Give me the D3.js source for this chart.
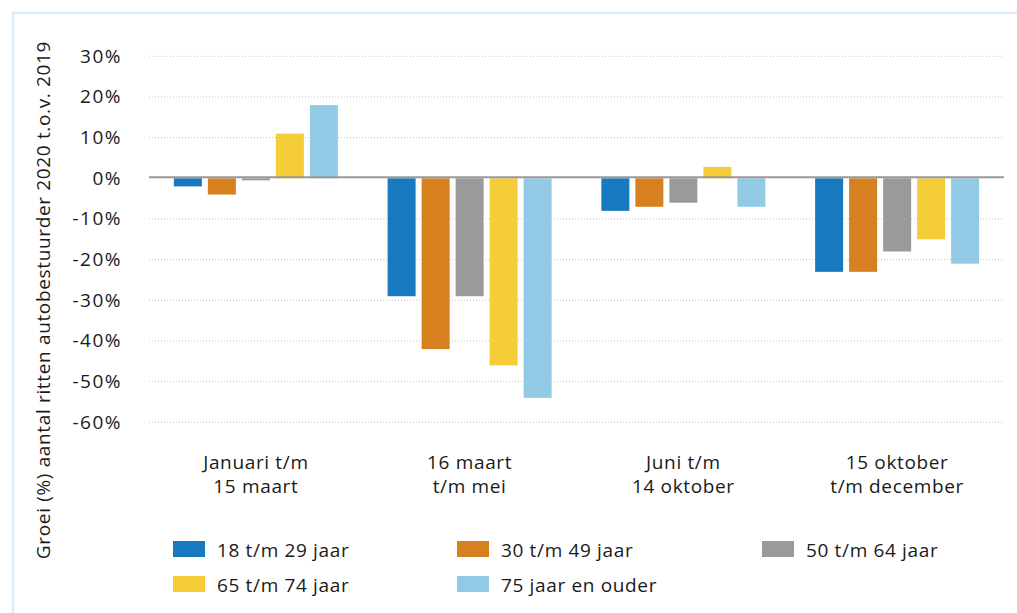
<!DOCTYPE html>
<meta charset="utf-8">
<style>
  body { margin: 0; background: #fff; }
  text { font-family: "Open Sans", sans-serif; fill: #1a1a1a; letter-spacing: 0.65px; }
</style>
<script src="https://d3js.org/d3.v7.min.js"></script>
<body>
</body>
<script>
// periods on the x axis (two lines each)
var categories = [
  ["Januari t/m", "15 maart"],
  ["16 maart", "t/m mei"],
  ["Juni t/m", "14 oktober"],
  ["15 oktober", "t/m december"]
];
var series = ["18 t/m 29 jaar", "30 t/m 49 jaar", "50 t/m 64 jaar", "65 t/m 74 jaar", "75 jaar en ouder"];
var colors = ["#1779c0", "#d6801f", "#9a9a9a", "#f4cd38", "#92cae6"];
// growth % per series, one value per period
var v18_29 = [-2, -29, -8, -23];
var v30_49 = [-4, -42, -7, -23];
var v50_64 = [-0.5, -29, -6, -18];
var v65_74 = [11, -46, 2.8, -15];
var v75plus = [18, -54, -7, -21];
var values = [v18_29, v30_49, v50_64, v65_74, v75plus];
var yTicks = [30, 20, 10, 0, -10, -20, -30, -40, -50, -60];

var width = 1017, height = 613;

var svg = d3.select("body").append("svg")
    .attr("width", width)
    .attr("height", height);

// light blue frame
svg.append("rect")
    .attr("x", 13).attr("y", 13)
    .attr("width", width).attr("height", height)
    .attr("fill", "none")
    .attr("stroke", "#dcedf7")
    .attr("stroke-width", 2.5);

var x0 = d3.scaleBand()
    .domain(d3.range(categories.length))
    .range([149, 1004]);

var x1 = d3.scaleBand()
    .domain(d3.range(series.length))
    .range([-82, 82])
    .paddingInner(6 / 34);

var y = d3.scaleLinear()
    .domain([-60, 30])
    .range([422.3, 56.3]);

// dotted grid lines
svg.append("g").selectAll("line")
    .data(yTicks.filter(function(d) { return d != 0; }))
    .enter().append("line")
    .attr("x1", 149).attr("x2", 1004)
    .attr("y1", function(d) { return y(d); })
    .attr("y2", function(d) { return y(d); })
    .attr("stroke", "#c4c4c4")
    .attr("stroke-width", 1)
    .attr("stroke-dasharray", "1,2");

// y tick labels
svg.append("g").selectAll("text")
    .data(yTicks)
    .enter().append("text")
    .attr("x", 122)
    .attr("y", function(d) { return y(d) + 6.5; })
    .attr("text-anchor", "end")
    .style("font-size", "19px")
    .style("letter-spacing", "1.5px")
    .text(function(d) { return d + "%"; });

// bars
var groups = svg.append("g").selectAll("g")
    .data(categories)
    .enter().append("g")
    .attr("transform", function(d, i) { return "translate(" + (x0(i) + x0.bandwidth() / 2) + ",0)"; });

groups.selectAll("rect")
    .data(function(d, i) { return values.map(function(s, j) { return { s: j, v: s[i] }; }); })
    .enter().append("rect")
    .attr("x", function(d) { return x1(d.s); })
    .attr("width", x1.bandwidth())
    .attr("y", function(d) { return y(Math.max(0, d.v)); })
    .attr("height", function(d) { return Math.abs(y(d.v) - y(0)); })
    .attr("fill", function(d) { return colors[d.s]; });

// zero line
svg.append("line")
    .attr("x1", 149).attr("x2", 1004)
    .attr("y1", y(0) - 1).attr("y2", y(0) - 1)
    .attr("stroke", "#999")
    .attr("stroke-width", 2);

// category labels
groups.append("text")
    .attr("text-anchor", "middle")
    .style("font-size", "19px")
    .selectAll("tspan")
    .data(function(d) { return d; })
    .enter().append("tspan")
    .attr("x", 0)
    .attr("y", function(d, i) { return 469 + i * 24; })
    .text(function(d) { return d; });

// y axis title
svg.append("text")
    .attr("transform", "translate(50,300) rotate(-90)")
    .attr("text-anchor", "middle")
    .style("font-size", "19px")
    .text("Groei (%) aantal ritten autobestuurder 2020 t.o.v. 2019");

// legend
var legendX = [173, 457, 762];
var legend = svg.append("g").selectAll("g")
    .data(series)
    .enter().append("g")
    .attr("transform", function(d, i) { return "translate(" + legendX[i % 3] + "," + (541 + Math.floor(i / 3) * 35) + ")"; });

legend.append("rect")
    .attr("width", 32).attr("height", 16)
    .attr("fill", function(d, i) { return colors[i]; });

legend.append("text")
    .attr("x", 44).attr("y", 15.5)
    .style("font-size", "19px")
    .text(function(d) { return d; });
</script>
